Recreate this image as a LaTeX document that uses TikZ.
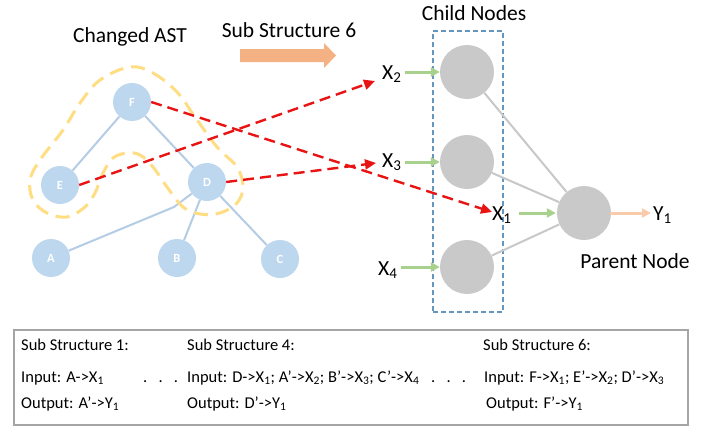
\documentclass[tikz,border=0pt]{standalone}
\usepackage{fontspec}
\setmainfont{Carlito}
\usetikzlibrary{arrows.meta}
\definecolor{treeblue}{RGB}{189,215,238}
\definecolor{treeedgec}{RGB}{180,204,228}
\definecolor{ygold}{RGB}{255,221,130}
\definecolor{redd}{RGB}{232,20,20}
\definecolor{cgray}{RGB}{201,201,201}
\definecolor{lgray}{RGB}{200,200,200}
\definecolor{lgreen}{RGB}{169,209,142}
\definecolor{salmon}{RGB}{244,177,131}
\definecolor{peach}{RGB}{248,203,173}
\definecolor{boxblue}{RGB}{100,150,190}
\definecolor{boxgray}{RGB}{165,165,165}
\begin{document}
\begin{tikzpicture}[x=1pt,y=-1pt,
  treenode/.style={circle,fill=treeblue,minimum size=38pt,inner sep=0pt,text=white,font=\fontsize{12.5}{14}\selectfont\bfseries},
  treeedge/.style={draw=treeedgec,line width=2pt},
  cnode/.style={circle,fill=cgray,minimum size=54pt,inner sep=0pt},
  biglab/.style={font=\fontsize{21.5}{24}\selectfont,inner sep=0pt,anchor=base},
  xlab/.style={font=\fontsize{21.5}{24}\selectfont,inner sep=0pt,anchor=base west},
  smalltxt/.style={font=\fontsize{16.5}{18}\selectfont,inner sep=0pt,anchor=base west},
  redarrow/.style={draw=redd,line width=2.4pt,dash pattern=on 11pt off 6pt,-{Triangle[length=11pt,width=10pt]}},
  greenarrow/.style={draw=lgreen,line width=3pt,-{Triangle[length=9pt,width=9pt]}},
  peacharrow/.style={draw=peach,line width=3pt,-{Triangle[length=9pt,width=9pt]}},
  grayedge/.style={draw=lgray,line width=2pt},
  yellowloop/.style={draw=ygold,line width=3pt,dash pattern=on 14pt off 8pt}
]
\useasboundingbox (0,0) rectangle (706,439);
\fill[white] (0,0) rectangle (706,439);

% titles
\node[biglab] (tAST) at (130,42) {Changed AST};
\node[biglab] (tSub) at (289,37) {Sub Structure 6};
\node[biglab] (tChild) at (474,20) {Child Nodes};
\node[biglab] (tParent) at (635,268) {Parent Node};

% salmon block arrow
\fill[salmon] (240,49) -- (324,49) -- (324,43) -- (336,55.5) -- (324,68) -- (324,62) -- (240,62) -- cycle;

% tree
\node[treenode] (F) at (132,102) {F};
\node[treenode] (E) at (60,185) {E};
\node[treenode] (D) at (207,182) {D};
\node[treenode] (A) at (51,258) {A};
\node[treenode] (B) at (177,258) {B};
\node[treenode] (C) at (280,259) {C};
\coordinate (bendAD) at (174,207);
\draw[treeedge] (F) -- (E);
\draw[treeedge] (F) -- (D);
\draw[treeedge] (A) -- (bendAD) -- (D);
\draw[treeedge] (D) -- (B);
\draw[treeedge] (D) -- (C);

% yellow dashed loop
\draw[yellowloop] plot[smooth cycle,tension=0.6] coordinates {
 (130,67) (153,73) (177,92) (195,117) (217,147) (237,167) (243,187) (237,203)
 (220,213) (200,214) (183,207) (167,187) (153,167) (140,155) (127,153) (113,158)
 (103,173) (95,193) (85,207) (67,217) (47,213) (33,200) (30,180) (40,160)
 (63,130) (80,103) (100,80)};

% child frame
\node[draw=boxblue,line width=1.2pt,dash pattern=on 5pt off 3pt,minimum width=70pt,minimum height=281pt,inner sep=0pt] (frame) at (468,171.5) {};

% gray nodes
\node[cnode] (c2) at (467,72) {};
\node[cnode] (c3) at (467,162) {};
\node[cnode] (c4) at (467,267) {};
\node[cnode] (par) at (584,213) {};
\draw[grayedge] (c2) -- (par);
\draw[grayedge] (c3) -- (par);
\draw[grayedge] (c4) -- (par);

% X labels
\node[xlab] (X2) at (382,79) {X\textsubscript{2}};
\node[xlab] (X3) at (382,167) {X\textsubscript{3}};
\node[xlab] (X4) at (378,275) {X\textsubscript{4}};
\node[xlab] (X1) at (492,220) {X\textsubscript{1}};
\node[xlab] (Y1) at (653,220) {Y\textsubscript{1}};

\draw[greenarrow,shorten <=3pt] (X2.east |- c2.west) -- (c2.west);
\draw[greenarrow,shorten <=3pt] (X3.east |- c3.west) -- (c3.west);
\draw[greenarrow,shorten <=3pt] (X4.east |- c4.west) -- (c4.west);
\draw[greenarrow,shorten <=7pt,shorten >=1pt] (X1.east |- par.west) -- (par.west);
\draw[peacharrow,shorten <=-1pt,shorten >=2pt] (par.east) -- (Y1.west |- par.east);

% red dashed arrows
\coordinate (tipX2) at (375,81);
\coordinate (tipX3) at (376,163);
\coordinate (tipX1) at (492,212);
\draw[redarrow] (E.east) -- (tipX2);
\draw[redarrow] (D.east) -- (tipX3);
\draw[redarrow] (F.east) -- (tipX1);

% bottom box
\node[draw=boxgray,line width=1.5pt,minimum width=674pt,minimum height=95pt,inner sep=0pt] (box) at (351,377.5) {};
\node[smalltxt] (s1) at (21,350) {Sub Structure 1:};
\node[smalltxt] (i1) at (21,382) {Input: A->X\textsubscript{1}};
\node[smalltxt] (o1) at (21,408) {Output: A’->Y\textsubscript{1}};
\node[smalltxt] (d1) at (143,382) {.\ \ \ .\ \ \ .};
\node[smalltxt] (s4) at (187,350) {Sub Structure 4:};
\node[smalltxt] (i4) at (187,382) {Input: D->X\textsubscript{1}; A’->X\textsubscript{2}; B’->X\textsubscript{3}; C’->X\textsubscript{4}};
\node[smalltxt] (o4) at (187,408) {Output: D’->Y\textsubscript{1}};
\node[smalltxt] (d2) at (431,382) {.\ \ \ .\ \ \ .};
\node[smalltxt] (s6) at (483,350) {Sub Structure 6:};
\node[smalltxt] (i6) at (484,382) {Input: F->X\textsubscript{1}; E’->X\textsubscript{2}; D’->X\textsubscript{3}};
\node[smalltxt] (o6) at (486,408) {Output: F’->Y\textsubscript{1}};
\end{tikzpicture}
\end{document}
